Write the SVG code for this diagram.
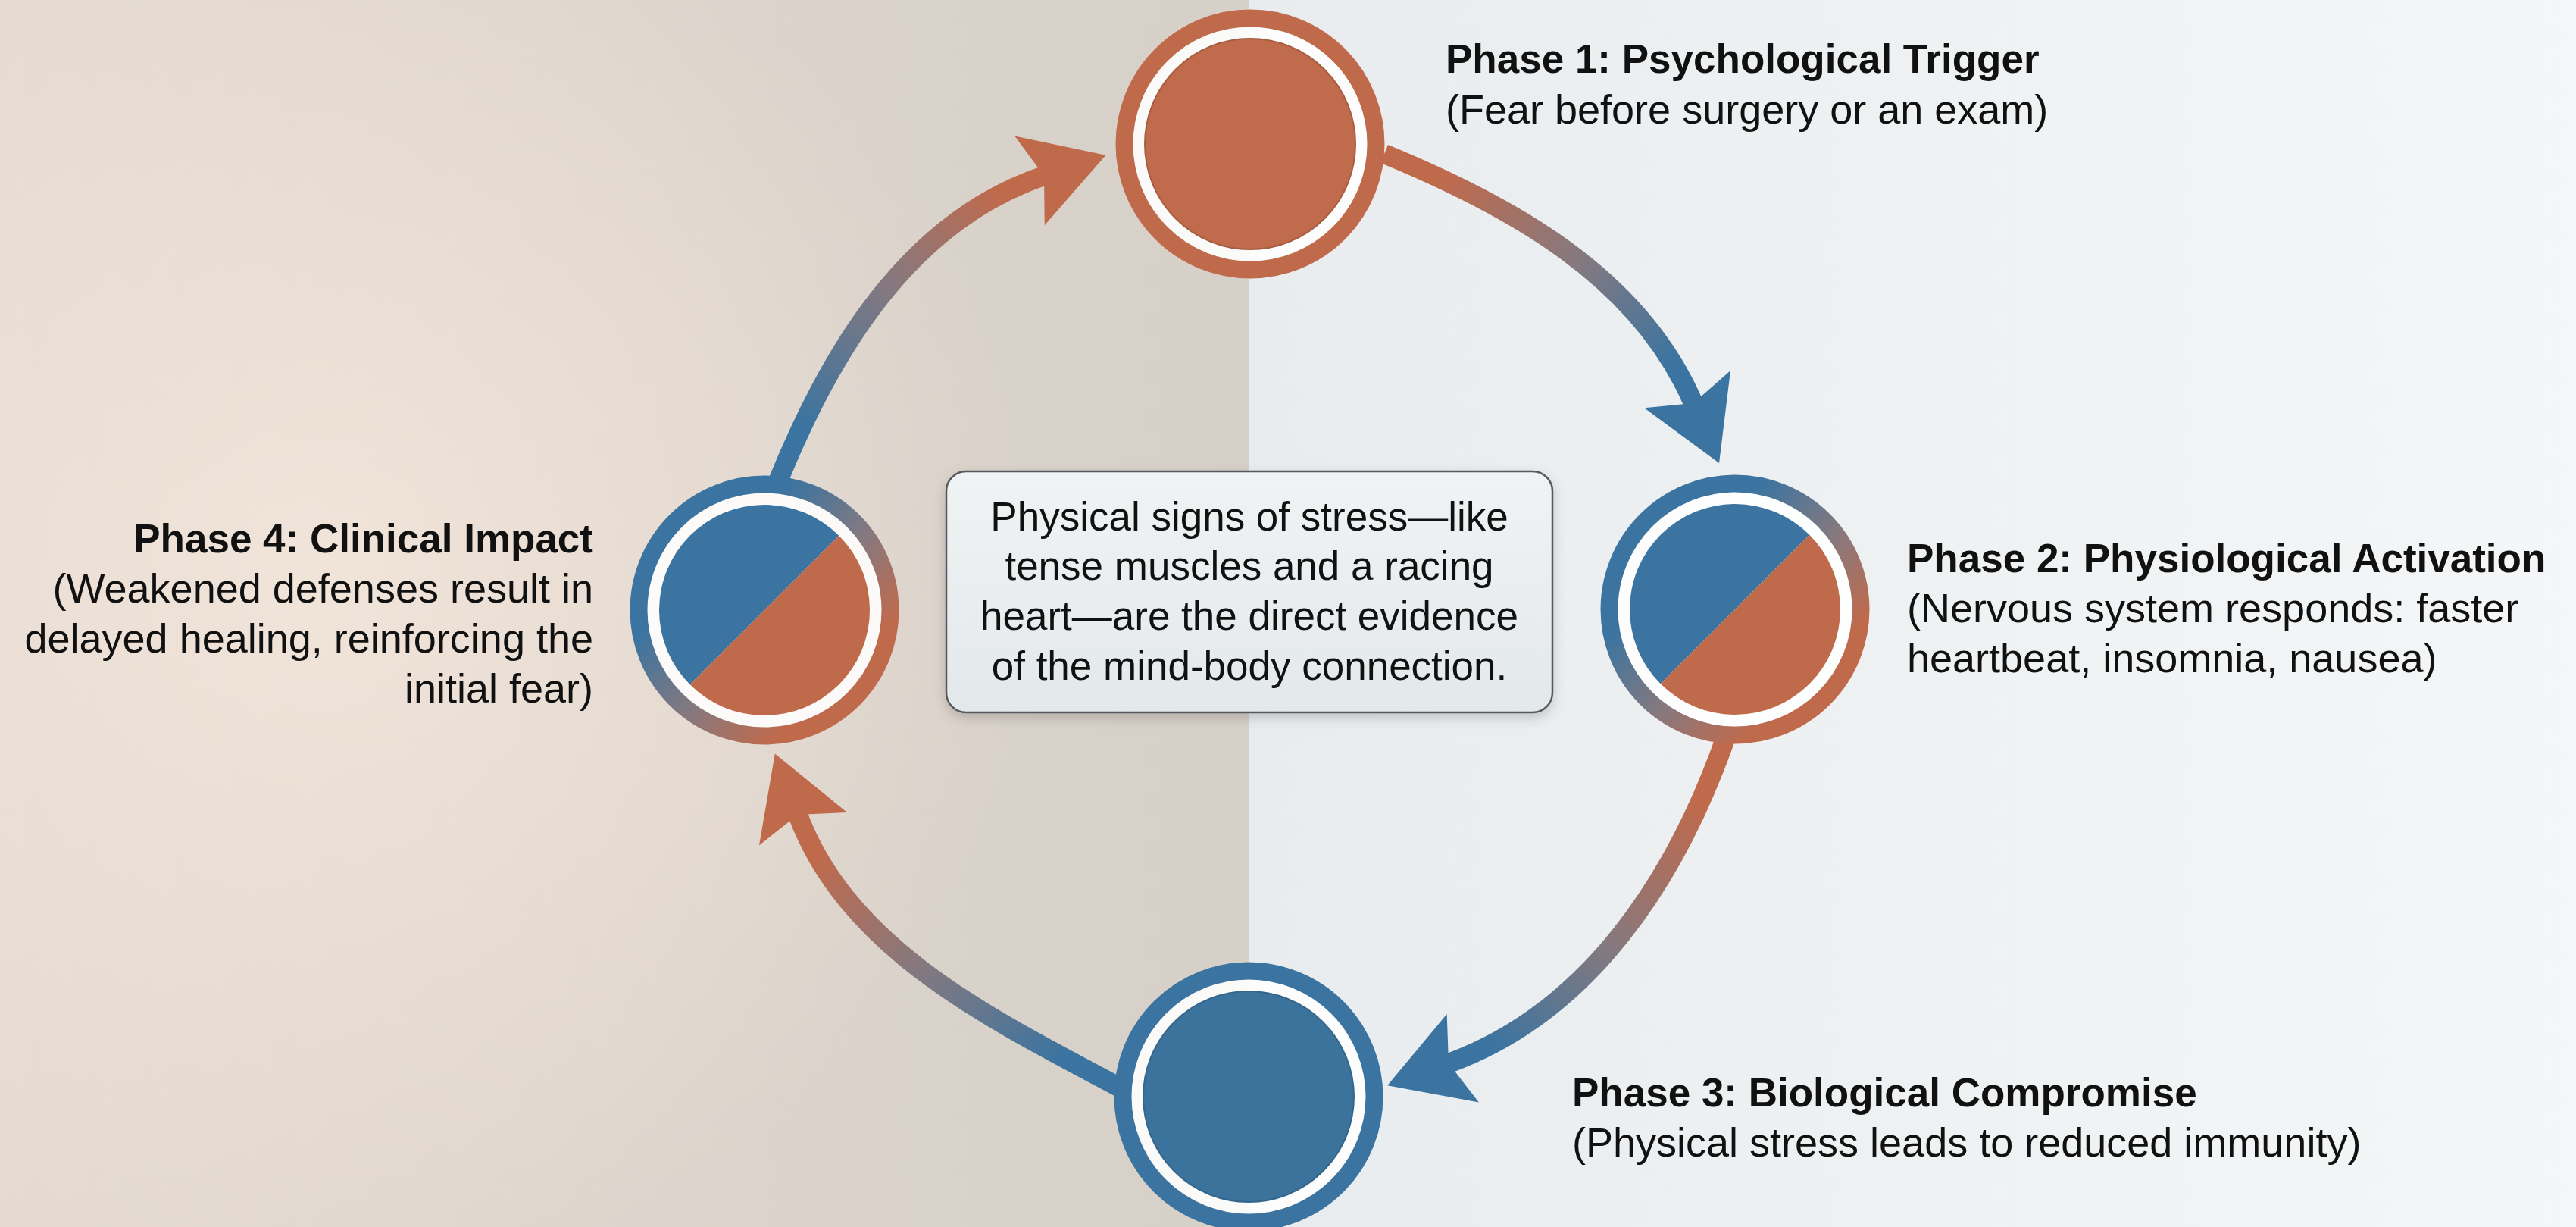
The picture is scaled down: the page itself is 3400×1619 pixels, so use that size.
<svg xmlns="http://www.w3.org/2000/svg" width="3400" height="1619" viewBox="0 0 3400 1619">
  <style>
    .title { font-family: "Liberation Sans", Arial, sans-serif; font-weight: bold; font-size: 53px; fill: #111111; }
    .desc { font-family: "Liberation Sans", Arial, sans-serif; font-size: 54px; fill: #111111; }
    .note { font-family: "Liberation Sans", Arial, sans-serif; font-size: 53px; fill: #111111; text-anchor: middle; }
    .shaft { fill: none; stroke-width: 26; }
    .gap { fill: #ffffff; fill-opacity: 0.88; }
  </style>
  <defs>
    <linearGradient id="bgLeft" x1="0" y1="0" x2="1" y2="0">
      <stop offset="0" stop-color="#e4dad1"/>
      <stop offset="1" stop-color="#d6d0c8"/>
    </linearGradient>
    <radialGradient id="glowLeft" cx="420" cy="760" r="950" gradientUnits="userSpaceOnUse">
      <stop offset="0" stop-color="#f4e6db" stop-opacity="0.85"/>
      <stop offset="1" stop-color="#f4e6db" stop-opacity="0"/>
    </radialGradient>
    <linearGradient id="bgRight" x1="0" y1="0" x2="1" y2="0">
      <stop offset="0" stop-color="#e9ecee"/>
      <stop offset="1" stop-color="#f4f6f7"/>
    </linearGradient>
    <linearGradient id="boxFill" x1="0" y1="0" x2="0" y2="1">
      <stop offset="0" stop-color="#f0f3f4"/>
      <stop offset="1" stop-color="#e3e8ea"/>
    </linearGradient>
    <linearGradient id="ringGrad" x1="0" y1="0" x2="1" y2="1">
      <stop offset="0.3" stop-color="#3b74a0"/>
      <stop offset="0.55" stop-color="#85797f"/>
      <stop offset="0.78" stop-color="#c06a4c"/>
    </linearGradient>
    <linearGradient id="g12" gradientUnits="userSpaceOnUse" x1="1827" y1="203" x2="2235" y2="532">
      <stop offset="0.15" stop-color="#c06a4c"/>
      <stop offset="0.55" stop-color="#85797f"/>
      <stop offset="0.9" stop-color="#3b74a0"/>
    </linearGradient>
    <linearGradient id="g23" gradientUnits="userSpaceOnUse" x1="2277" y1="975" x2="1912" y2="1403">
      <stop offset="0.15" stop-color="#c06a4c"/>
      <stop offset="0.55" stop-color="#85797f"/>
      <stop offset="0.9" stop-color="#3b74a0"/>
    </linearGradient>
    <linearGradient id="g34" gradientUnits="userSpaceOnUse" x1="1478" y1="1435" x2="1053" y2="1075">
      <stop offset="0.15" stop-color="#3b74a0"/>
      <stop offset="0.55" stop-color="#85797f"/>
      <stop offset="0.9" stop-color="#c06a4c"/>
    </linearGradient>
    <linearGradient id="g41" gradientUnits="userSpaceOnUse" x1="1025" y1="640" x2="1378" y2="232">
      <stop offset="0.15" stop-color="#3b74a0"/>
      <stop offset="0.55" stop-color="#85797f"/>
      <stop offset="0.9" stop-color="#c06a4c"/>
    </linearGradient>
    <marker id="ahBlue" markerUnits="userSpaceOnUse" markerWidth="140" markerHeight="140" viewBox="-10 -70 140 140" refX="20" refY="0" orient="auto">
      <path d="M0,-62 L106,0 L0,62 L20,0 Z" fill="#3b74a0"/>
    </marker>
    <marker id="ahOrange" markerUnits="userSpaceOnUse" markerWidth="140" markerHeight="140" viewBox="-10 -70 140 140" refX="20" refY="0" orient="auto">
      <path d="M0,-62 L106,0 L0,62 L20,0 Z" fill="#c06a4c"/>
    </marker>
    <filter id="shadow" x="-10%" y="-10%" width="120%" height="130%">
      <feDropShadow dx="0" dy="6" stdDeviation="8" flood-color="#000000" flood-opacity="0.18"/>
    </filter>
  </defs>

  <!-- background -->
  <rect x="0" y="0" width="1648" height="1619" fill="url(#bgLeft)"/>
  <rect x="0" y="0" width="1648" height="1619" fill="url(#glowLeft)"/>
  <rect x="1648" y="0" width="1752" height="1619" fill="url(#bgRight)"/>

  <!-- connectors -->
  <g id="connectors">
    <path id="c-p1-p2" class="shaft" stroke="url(#g12)" d="M1827,203 C1995,272 2163,365 2235,532" marker-end="url(#ahBlue)"/>
    <path id="c-p2-p3" class="shaft" stroke="url(#g23)" d="M2277,975 C2212,1160 2097,1336 1912,1403" marker-end="url(#ahBlue)"/>
    <path id="c-p3-p4" class="shaft" stroke="url(#g34)" d="M1478,1435 C1309,1345 1120,1254 1053,1075" marker-end="url(#ahOrange)"/>
    <path id="c-p4-p1" class="shaft" stroke="url(#g41)" d="M1025,640 C1095,465 1199,292 1378,232" marker-end="url(#ahOrange)"/>
  </g>

  <!-- Phase 1 -->
  <g id="phase1">
    <g transform="translate(1650,190)">
      <circle r="156" class="gap"/>
      <circle r="166" fill="none" stroke="#c06a4c" stroke-width="23"/>
      <circle r="139" fill="#bf6b4c" stroke="#a85c41" stroke-width="2"/>
    </g>
    <text class="title" x="1908" y="96">Phase 1: Psychological Trigger</text>
    <text class="desc" x="1908" y="163">(Fear before surgery or an exam)</text>
  </g>

  <!-- Phase 2 -->
  <g id="phase2">
    <g transform="translate(2290,804)">
      <circle r="156" class="gap"/>
      <circle r="166" fill="none" stroke="url(#ringGrad)" stroke-width="23"/>
      <path d="M98.3,-98.3 A139,139 0 0 0 -98.3,98.3 Z" fill="#3b74a0"/>
      <path d="M98.3,-98.3 A139,139 0 0 1 -98.3,98.3 Z" fill="#c06a4c"/>
    </g>
    <text class="title" x="2517" y="755">Phase 2: Physiological Activation</text>
    <text class="desc" x="2517" y="821">(Nervous system responds: faster</text>
    <text class="desc" x="2517" y="887">heartbeat, insomnia, nausea)</text>
  </g>

  <!-- Phase 3 -->
  <g id="phase3">
    <g transform="translate(1648,1447)">
      <circle r="156" class="gap"/>
      <circle r="166" fill="none" stroke="#3b74a0" stroke-width="23"/>
      <circle r="139" fill="#3c739c" stroke="#34668c" stroke-width="2"/>
    </g>
    <text class="title" x="2075" y="1460">Phase 3: Biological Compromise</text>
    <text class="desc" x="2075" y="1526">(Physical stress leads to reduced immunity)</text>
  </g>

  <!-- Phase 4 -->
  <g id="phase4">
    <g transform="translate(1009,805)">
      <circle r="156" class="gap"/>
      <circle r="166" fill="none" stroke="url(#ringGrad)" stroke-width="23"/>
      <path d="M98.3,-98.3 A139,139 0 0 0 -98.3,98.3 Z" fill="#3b74a0"/>
      <path d="M98.3,-98.3 A139,139 0 0 1 -98.3,98.3 Z" fill="#c06a4c"/>
    </g>
    <text class="title" x="783" y="729" text-anchor="end">Phase 4: Clinical Impact</text>
    <text class="desc" x="783" y="795" text-anchor="end">(Weakened defenses result in</text>
    <text class="desc" x="783" y="861" text-anchor="end">delayed healing, reinforcing the</text>
    <text class="desc" x="783" y="927" text-anchor="end">initial fear)</text>
  </g>

  <!-- center note -->
  <g id="center-note">
    <rect x="1249" y="622" width="800" height="318" rx="26" ry="26" fill="url(#boxFill)" stroke="#56595b" stroke-width="2.5" filter="url(#shadow)"/>
    <text class="note" x="1649" y="700">Physical signs of stress—like</text>
    <text class="note" x="1649" y="765">tense muscles and a racing</text>
    <text class="note" x="1649" y="831">heart—are the direct evidence</text>
    <text class="note" x="1649" y="897">of the mind-body connection.</text>
  </g>
</svg>
